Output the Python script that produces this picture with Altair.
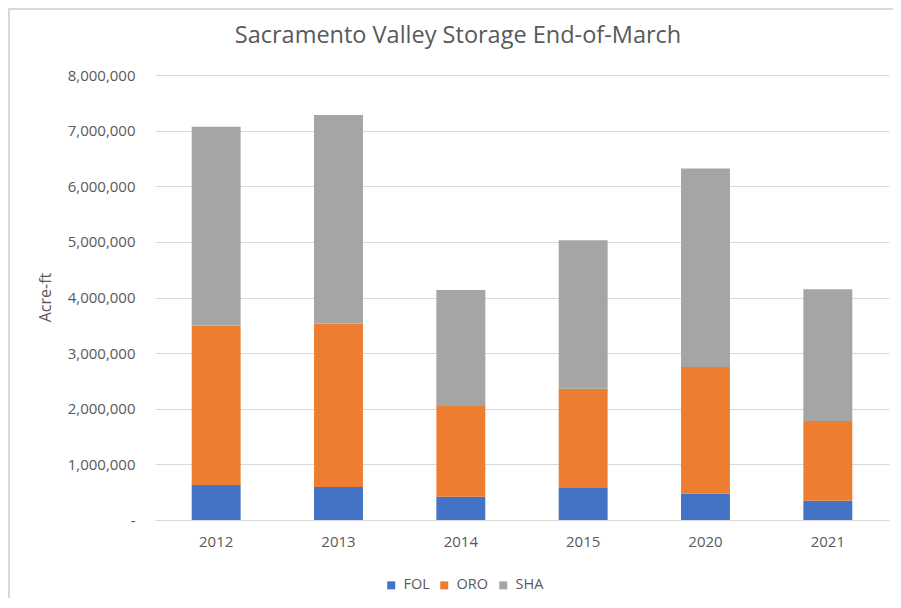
import altair as alt
import pandas as pd

years = ["2012", "2013", "2014", "2015", "2020", "2021"]
fol = [630000, 593000, 420000, 575000, 474000, 347000]
oro = [2860000, 2940000, 1630000, 1785000, 2276000, 1433000]
sha = [3580000, 3750000, 2085000, 2670000, 3570000, 2370000]
series = ["FOL", "ORO", "SHA"]
colors = ["#4472C4", "#ED7D31", "#A5A5A5"]
y_ticks = [0, 1000000, 2000000, 3000000, 4000000, 5000000, 6000000, 7000000, 8000000]
title_text = "Sacramento Valley Storage End-of-March"

rows = []
for i, yr in enumerate(years):
    for k, (s, vals) in enumerate(zip(series, [fol, oro, sha])):
        rows.append({"Year": yr, "Reservoir": s, "Storage": vals[i], "order": k})
df = pd.DataFrame(rows)

FONT = "Open Sans"
GRAY = "#595959"
GRID = "#D9D9D9"

bars = alt.Chart(df).mark_bar().encode(
    x=alt.X("Year:N", sort=years,
            scale=alt.Scale(paddingInner=0.6, paddingOuter=0.3),
            axis=alt.Axis(title=None, labelAngle=0, labelFont=FONT, labelFontSize=15,
                          labelColor=GRAY, labelPadding=14, ticks=False,
                          domainColor=GRID, domainWidth=1)),
    y=alt.Y("Storage:Q", stack="zero",
            scale=alt.Scale(domain=[0, 8000000], nice=False),
            axis=alt.Axis(title="Acre-ft", values=y_ticks,
                          labelExpr="datum.value == 0 ? '-\u00a0\u00a0\u00a0\u00a0' : format(datum.value, ',')",
                          labelFont=FONT, labelFontSize=15, labelColor=GRAY, labelPadding=20,
                          ticks=False, domain=False, grid=True, gridColor=GRID, gridWidth=1,
                          titleFont=FONT, titleFontSize=16, titleColor=GRAY, titleFontWeight="normal",
                          titleX=-110, titleY=222, titleAngle=-90, titleAlign="center",
                          titleBaseline="middle")),
    color=alt.Color("Reservoir:N", sort=series,
                    scale=alt.Scale(domain=series, range=colors),
                    legend=alt.Legend(title=None, orient="none", direction="horizontal",
                                      legendX=229, legendY=503, padding=0,
                                      symbolType="square", symbolSize=64, symbolStrokeWidth=0,
                                      labelFont=FONT, labelFontSize=14.5, labelColor=GRAY,
                                      labelOffset=5, columnPadding=7)),
    order=alt.Order("order:Q", sort="ascending"),
)

one = alt.Data(values=[{"t": title_text}])

frame = alt.Chart(one).mark_rule(color=GRID, strokeWidth=2).encode(
    x=alt.value(-146), x2=alt.value(-146), y=alt.value(-67), y2=alt.value(525)
)
frame_top = alt.Chart(one).mark_rule(color=GRID, strokeWidth=2).encode(
    x=alt.value(-147), x2=alt.value(740), y=alt.value(-66)
)
title = alt.Chart(one).mark_text(font=FONT, fontSize=23.5, color=GRAY, align="center",
                                 baseline="middle").encode(
    text="t:N", x=alt.value(303), y=alt.value(-39)
)

chart = alt.layer(frame, frame_top, title, bars).properties(
    width=734, height=445,
    autosize=alt.AutoSizeParams(type="none"),
    padding={"left": 147, "top": 67, "right": 4, "bottom": 78},
).configure_view(stroke=None)

chart.save("out.html", embed_options={"renderer": "svg", "actions": False})
